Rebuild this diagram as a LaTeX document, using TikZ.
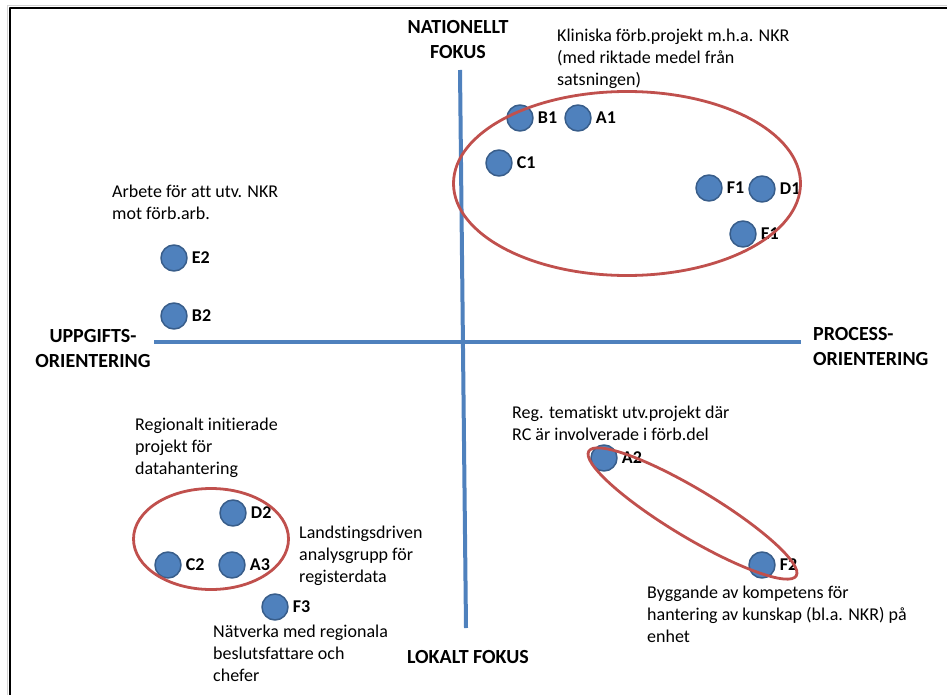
\documentclass[tikz,border=0pt]{standalone}
\usepackage{fontspec}
\setmainfont{Carlito}[Ligatures=NoCommon]
\definecolor{axisblue}{HTML}{4F81BD}
\definecolor{dotrim}{HTML}{385D8A}
\definecolor{ringred}{HTML}{C0504D}
\tikzset{
  dot/.style={circle, fill=axisblue, draw=dotrim, line width=1.5pt, minimum size=26pt, inner sep=0pt},
  dotlbl/.style={font=\fontsize{18}{22}\selectfont\bfseries, inner sep=0pt, xshift=4pt},
  note/.style={font=\fontsize{18}{22}\selectfont, align=left, anchor=north west, inner sep=0pt},
  pole/.style={font=\fontsize{20}{25}\selectfont\bfseries, inner sep=0pt},
  ring/.style={draw=ringred, line width=2.8pt},
  axisline/.style={draw=axisblue, line width=4pt, line cap=butt},
}
\begin{document}
\begin{tikzpicture}[x=1pt, y=1pt, line cap=round, line join=round]
    \useasboundingbox (0,0) rectangle (947,-695);
    \draw[gray!35, line width=1pt] (7.5,-700) -- (7.5,-5.5) -- (950,-5.5);
    \draw[line width=2pt] (10,-700) -- (10,-8) -- (950,-8);
    \coordinate (ntop) at (460,-70);
    \coordinate (nbot) at (466,-628);
    \coordinate (west) at (154,-342);
    \coordinate (east) at (801,-342);
    \draw[axisline] (west) -- (east);
    \draw[axisline] (ntop) -- (nbot);
    \node[pole, align=center, anchor=north] (nationellt) at (458,-20) {NATIONELLT\\FOKUS};
    \node[pole, align=center, anchor=north] (uppgifts) at (93,-329) {UPPGIFTS-\\ORIENTERING};
    \node[pole, align=left, anchor=north west] (process) at (813,-327) {PROCESS-\\ORIENTERING};
    \node[pole, anchor=base] (lokalt) at (468,-663) {LOKALT FOKUS};
    \node[note] (kliniska) at (557,-29.3) {Kliniska förb.projekt m.h.a. NKR\\(med riktade medel från\\satsningen)};
    \node[note] (arbete) at (112,-185.3) {Arbete för att utv. NKR\\mot förb.arb.};
    \node[note] (regionalt) at (135,-417.3) {Regionalt initierade\\projekt för\\datahantering};
    \node[note] (landsting) at (299,-525.3) {Landstingsdriven\\analysgrupp för\\registerdata};
    \node[note] (natverka) at (213,-624.3) {Nätverka med regionala\\beslutsfattare och\\chefer};
    \node[note] (tematiskt) at (512,-405.3) {Reg. tematiskt utv.projekt där\\RC är involverade i förb.del};
    \node[note] (byggande) at (647,-585.3) {Byggande av kompetens för\\hantering av kunskap (bl.a. NKR) på\\enhet};
    \foreach \n/\x/\y in {B1/520/118, A1/578/118, C1/499/163, F1/709/188, D1/762/189, E1/743/234,
                          E2/174/258, B2/174/316, D2/233/513, C2/168/565, A3/232/565, F3/275/607,
                          A2/604/458, F2/762/565}
      \node[dot, label={[dotlbl]right:\n}] (\n) at (\x,-\y) {};
    \draw[ring] (627,-183.5) ellipse [x radius=173.5pt, y radius=92pt];
    \draw[ring] (211,-539) ellipse [x radius=77.5pt, y radius=50.5pt];
    \draw[ring, rotate around={-31:(692.5,-513.5)}] (692.5,-513.5) ellipse [x radius=121pt, y radius=24pt];
  \end{tikzpicture}
\end{document}
